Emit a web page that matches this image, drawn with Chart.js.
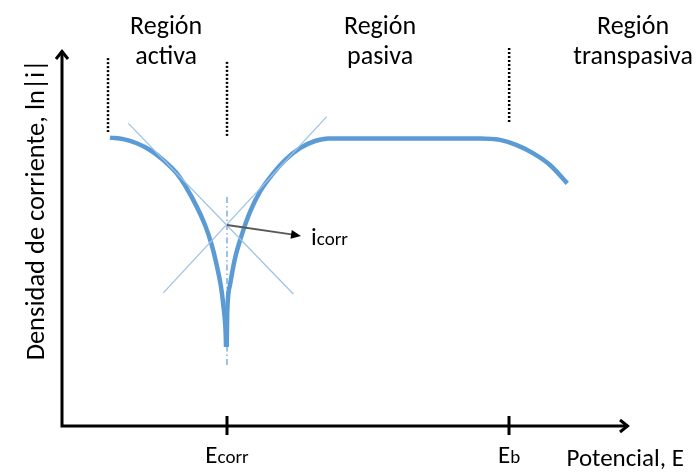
<!DOCTYPE html>
<html>
<head>
<meta charset="utf-8">
<script src="https://cdn.jsdelivr.net/npm/chart.js@4.4.1/dist/chart.umd.min.js"></script>
<style>
  html, body { margin: 0; padding: 0; background: #ffffff; }
  #wrap { width: 697px; height: 473px; }
</style>
</head>
<body>
<div id="wrap"><canvas id="chart" width="697" height="473"></canvas></div>
<script>
// Potential (arbitrary units) and ln|i| (arbitrary units)
const E_CORR = 29.15;
const E_B = 79.0;
const LN_I_CORR = 53.6;

// Cathodic / active branch, down to the corrosion potential
const activeE   = [8.48, 10.83, 13.20, 15.55, 17.90, 20.26, 22.03, 23.80, 25.27, 26.45, 27.33, 28.04, 28.50, 28.85, 28.98];
const activeLnI = [76.9, 76.5, 75.4, 73.6, 70.9, 67.4, 63.4, 58.5, 53.6, 48.3, 42.9, 37.6, 32.3, 26.9, 21.1];

// Anodic branch: active rise, passive plateau, transpassive fall
const anodicE   = [29.10, 29.20, 29.68, 30.57, 31.75, 33.22, 34.98, 37.05, 39.40, 42.05, 44.70, 47.05, 49.12, 73.85, 77.39, 80.34, 83.27, 86.22, 89.28];
const anodicLnI = [21.1, 30.5, 37.6, 44.7, 50.9, 57.1, 62.5, 66.9, 70.9, 74.1, 76.0, 76.7, 76.7, 76.7, 76.3, 74.9, 72.7, 69.6, 64.7];

// Tafel extrapolation lines
const tafelCathE   = [11.72, 40.87];
const tafelCathLnI = [80.7, 35.2];
const tafelAnodE   = [17.90, 46.77];
const tafelAnodLnI = [35.5, 82.5];

// Vertical guides
const ecorrGuideLnI = [61.1, 16.3];
const sepActiveE    = 8.13;
const sepActiveLnI  = [98.1, 78.4];
const sepPassiveLnI = [97.1, 77.1];
const sepTransLnI   = [100.8, 80.8];

// Text
const regionLabels = [['Región', 'activa'], ['Región', 'pasiva'], ['Región', 'transpasiva']];
const axisTitleX = 'Potencial, E';
const axisTitleY = 'Densidad de corriente, ln|i|';

const pts = (xs, ys) => xs.map((x, i) => ({ x, y: ys[i] }));
const vline = (x, ys) => ys.map(y => ({ x, y }));

const FONT = 'Carlito, Lato, "Open Sans", sans-serif';
const CURVE = '#5b9bd5';
const TAFEL = '#9dc3e6';

const dotted = data => ({
  data, showLine: true, borderColor: '#000000', borderWidth: 2.5,
  borderDash: [2, 2], pointRadius: 0, clip: false, tension: 0
});

const decor = {
  id: 'decor',
  afterDatasetsDraw(chart) {
    const { ctx, scales: { x, y } } = chart;
    const x0 = x.getPixelForValue(0), y0 = y.getPixelForValue(0);
    const xEnd = x.getPixelForValue(100), yEnd = y.getPixelForValue(100);
    ctx.save();
    ctx.strokeStyle = '#000';
    ctx.lineWidth = 3;
    ctx.lineCap = 'butt';
    // axes
    ctx.beginPath();
    ctx.moveTo(x0, yEnd); ctx.lineTo(x0, y0); ctx.lineTo(xEnd, y0);
    ctx.stroke();
    // open arrow heads
    ctx.lineJoin = 'miter';
    ctx.beginPath();
    ctx.moveTo(x0 - 6, yEnd + 8); ctx.lineTo(x0, yEnd + 0.5); ctx.lineTo(x0 + 6, yEnd + 8);
    ctx.moveTo(xEnd - 8, y0 - 6); ctx.lineTo(xEnd - 0.5, y0); ctx.lineTo(xEnd - 8, y0 + 6);
    ctx.stroke();
    // ticks at Ecorr and Eb
    ctx.beginPath();
    [E_CORR, E_B].forEach(v => {
      const px = Math.round(x.getPixelForValue(v));
      ctx.moveTo(px, y0 - 10); ctx.lineTo(px, y0 + 9);
    });
    ctx.stroke();

    // arrow to icorr
    const ax = x.getPixelForValue(E_CORR), ay = y.getPixelForValue(LN_I_CORR);
    const bx = x.getPixelForValue(42.23), by = y.getPixelForValue(50.7);
    const ang = Math.atan2(by - ay, bx - ax);
    ctx.strokeStyle = '#595959';
    ctx.fillStyle = '#000';
    ctx.lineWidth = 1.8;
    ctx.beginPath();
    ctx.moveTo(ax, ay);
    ctx.lineTo(bx - 8 * Math.cos(ang), by - 8 * Math.sin(ang));
    ctx.stroke();
    ctx.beginPath();
    ctx.moveTo(bx, by);
    ctx.lineTo(bx - 10 * Math.cos(ang) + 4.5 * Math.sin(ang), by - 10 * Math.sin(ang) - 4.5 * Math.cos(ang));
    ctx.lineTo(bx - 10 * Math.cos(ang) - 4.5 * Math.sin(ang), by - 10 * Math.sin(ang) + 4.5 * Math.cos(ang));
    ctx.closePath();
    ctx.fill();

    // text
    ctx.fillStyle = '#000';
    ctx.textBaseline = 'alphabetic';
    const big = '25px ' + FONT, small = '19px ' + FONT;
    const composite = (main, sub, cx, base, align) => {
      ctx.font = big; const w1 = ctx.measureText(main).width;
      ctx.font = small; const w2 = ctx.measureText(sub).width;
      const left = align === 'left' ? cx : cx - (w1 + w2) / 2;
      ctx.textAlign = 'left';
      ctx.font = big; ctx.fillText(main, left, base);
      ctx.font = small; ctx.fillText(sub, left + w1, base);
    };
    composite('E', 'corr', x.getPixelForValue(E_CORR), y0 + 37, 'center');
    composite('E', 'b', x.getPixelForValue(E_B), y0 + 37, 'center');
    composite('i', 'corr', bx + 10, by + 9, 'left');

    ctx.font = '26px ' + FONT;
    ctx.textAlign = 'center';
    const regionX = [18.4, 56.2, 100.9];
    regionLabels.forEach((lines, i) => {
      const cx = x.getPixelForValue(regionX[i]);
      ctx.fillText(lines[0], cx, yEnd - 17);
      ctx.fillText(lines[1], cx, yEnd + 13);
    });
    ctx.font = '25px ' + FONT;
    ctx.fillText(axisTitleX, x.getPixelForValue(99.5), y0 + 40);

    ctx.save();
    ctx.font = '26.5px ' + FONT;
    ctx.translate(x0 - 25, y.getPixelForValue(57.6));
    ctx.rotate(-Math.PI / 2);
    ctx.textBaseline = 'middle';
    ctx.fillText(axisTitleY, 0, 0);
    ctx.restore();
    ctx.restore();
  }
};

new Chart(document.getElementById('chart'), {
  type: 'scatter',
  data: {
    datasets: [
      { data: pts(tafelCathE, tafelCathLnI), showLine: true, borderColor: TAFEL, borderWidth: 1.3, pointRadius: 0, tension: 0 },
      { data: pts(tafelAnodE, tafelAnodLnI), showLine: true, borderColor: TAFEL, borderWidth: 1.3, pointRadius: 0, tension: 0 },
      { data: vline(E_CORR, ecorrGuideLnI), showLine: true, borderColor: CURVE, borderWidth: 1.2,
        borderDash: [6, 3, 1.5, 3], pointRadius: 0, tension: 0 },
      { data: pts(activeE, activeLnI), showLine: true, borderColor: CURVE, borderWidth: 4.5,
        pointRadius: 0, tension: 0.4, borderCapStyle: 'butt' },
      { data: pts(anodicE, anodicLnI), showLine: true, borderColor: CURVE, borderWidth: 4.5,
        pointRadius: 0, cubicInterpolationMode: 'monotone', borderCapStyle: 'butt' },
      dotted(vline(sepActiveE, sepActiveLnI)),
      dotted(vline(E_CORR, sepPassiveLnI)),
      dotted(vline(E_B, sepTransLnI))
    ]
  },
  options: {
    responsive: false,
    animation: false,
    events: [],
    layout: { padding: { left: 62, right: 69, top: 51, bottom: 47 } },
    plugins: { legend: { display: false }, tooltip: { enabled: false } },
    scales: {
      x: { type: 'linear', min: 0, max: 100, display: false },
      y: { type: 'linear', min: 0, max: 100, display: false }
    }
  },
  plugins: [decor]
});
</script>
</body>
</html>
